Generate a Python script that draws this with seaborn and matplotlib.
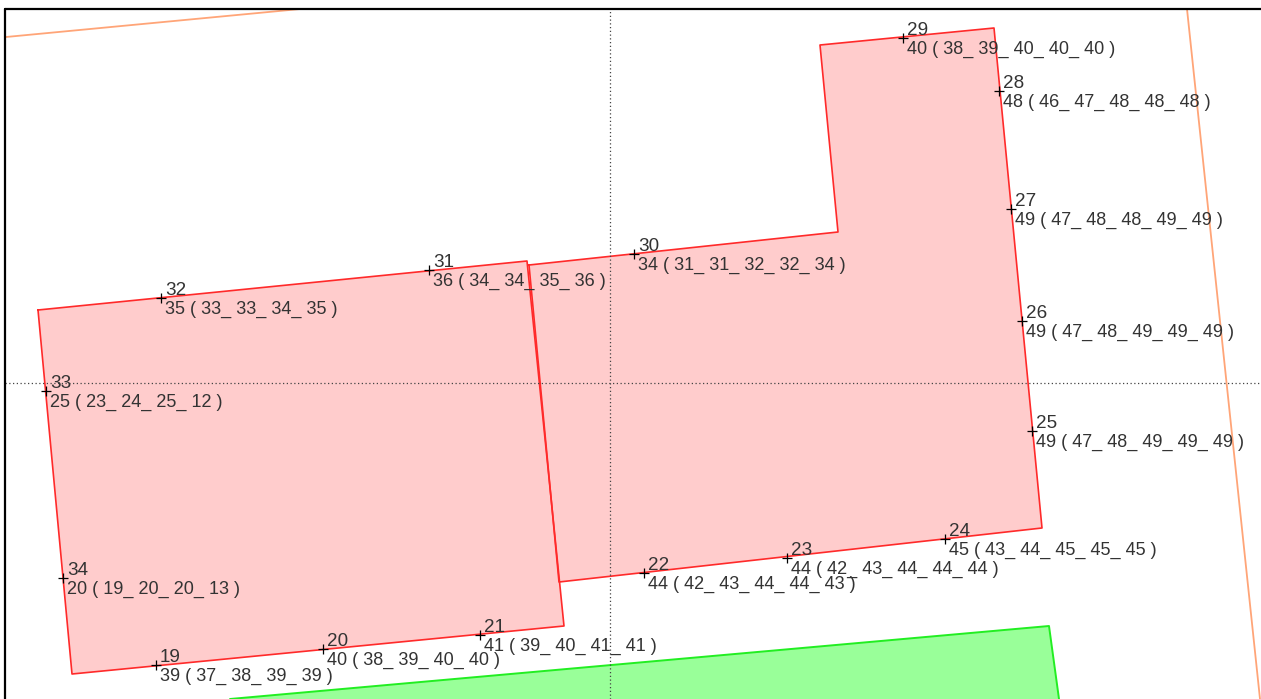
import matplotlib
matplotlib.use('Agg')
import matplotlib.pyplot as plt
import seaborn as sns
import pandas as pd

# Survey points, positions (image pixels)
point_ids = [19, 20, 21, 22, 23, 24, 25, 26, 27, 28, 29, 30, 31, 32, 33, 34]
point_x = [156, 323, 480, 644, 787, 945, 1032, 1022, 1011, 999, 903, 634, 429, 161, 46, 63]
point_y = [665, 649, 635, 573, 558, 539, 431, 321, 209, 91, 38, 254, 270, 298, 391, 578]
point_labels = [
    '39 ( 37_ 38_ 39_ 39 )', '40 ( 38_ 39_ 40_ 40 )', '41 ( 39_ 40_ 41_ 41 )',
    '44 ( 42_ 43_ 44_ 44_ 43 )', '44 ( 42_ 43_ 44_ 44_ 44 )', '45 ( 43_ 44_ 45_ 45_ 45 )',
    '49 ( 47_ 48_ 49_ 49_ 49 )', '49 ( 47_ 48_ 49_ 49_ 49 )', '49 ( 47_ 48_ 48_ 49_ 49 )',
    '48 ( 46_ 47_ 48_ 48_ 48 )', '40 ( 38_ 39_ 40_ 40_ 40 )', '34 ( 31_ 31_ 32_ 32_ 34 )',
    '36 ( 34_ 34_ 35_ 36 )', '35 ( 33_ 33_ 34_ 35 )', '25 ( 23_ 24_ 25_ 12 )',
    '20 ( 19_ 20_ 20_ 13 )',
]

# Building outlines
left_x = [38, 527, 564, 72, 38]
left_y = [310, 261, 626, 674, 310]
right_x = [529, 838, 820, 994, 1042, 559, 529]
right_y = [265, 232, 45, 28, 528, 582, 265]
green_x = [230, 1049, 1059]
green_y = [699, 626, 699]

# Boundary lines
orange_a_x = [6, 300]
orange_a_y = [37, 9]
orange_b_x = [1187, 1260]
orange_b_y = [9, 699]

# Crosshair
cross_x = 610
cross_y = 383

sns.set_theme(style='white')
plt.rcParams['font.family'] = ['Liberation Sans', 'DejaVu Sans']

fig, ax = plt.subplots(figsize=(12.61, 6.99), dpi=100)
ax.set_position([0, 0, 1, 1])

ax.fill(green_x, green_y, color='#99ff99', lw=0, zorder=1)
ax.fill(left_x, left_y, color='#ffcccc', lw=0, zorder=1)
ax.fill(right_x, right_y, color='#ffcccc', lw=0, zorder=1)


def outline(xs, ys, color, width=1.2):
    df = pd.DataFrame({'x': xs, 'y': ys})
    sns.lineplot(data=df, x='x', y='y', sort=False, estimator=None, color=color,
                 lw=width, ax=ax, zorder=2)


outline(green_x, green_y, '#22ee22', 1.4)
outline(right_x, right_y, '#ff2a2a')
outline(left_x, left_y, '#ff2a2a')
outline(orange_a_x, orange_a_y, '#ffa578', 1.3)
outline(orange_b_x, orange_b_y, '#ffa578', 1.3)

ax.axvline(cross_x, ymin=0, ymax=1 - 9 / 699, color='#444444', lw=0.9, ls=(0, (1, 2)), zorder=3)
ax.axhline(cross_y, xmin=5 / 1261, xmax=1, color='#444444', lw=0.9, ls=(0, (1, 2)), zorder=3)

points = pd.DataFrame({'x': point_x, 'y': point_y})
sns.scatterplot(data=points, x='x', y='y', marker='+', color='black', s=55, linewidth=0.9,
                ax=ax, zorder=4)

for pid, x, y, label in zip(point_ids, point_x, point_y, point_labels):
    ax.text(x + 4, y + 1, str(pid), fontsize=13.6, color='#333333', ha='left', va='bottom', zorder=5)
    ax.text(x + 4, y + 3, label, fontsize=13, color='#333333', ha='left', va='top', zorder=5)

ax.set_xlim(0, 1261)
ax.set_ylim(699, 0)
ax.set_xlabel('')
ax.set_ylabel('')
ax.set_xticks([])
ax.set_yticks([])
for side in ['right', 'bottom', 'top', 'left']:
    ax.spines[side].set_visible(False)

# Map frame: top and left edges only show in the crop
ax.plot([5, 5], [699, 9], color='black', lw=1.6, zorder=6)
ax.plot([5, 1261], [9, 9], color='black', lw=1.6, zorder=6)

fig.savefig('out.png', dpi=100)
